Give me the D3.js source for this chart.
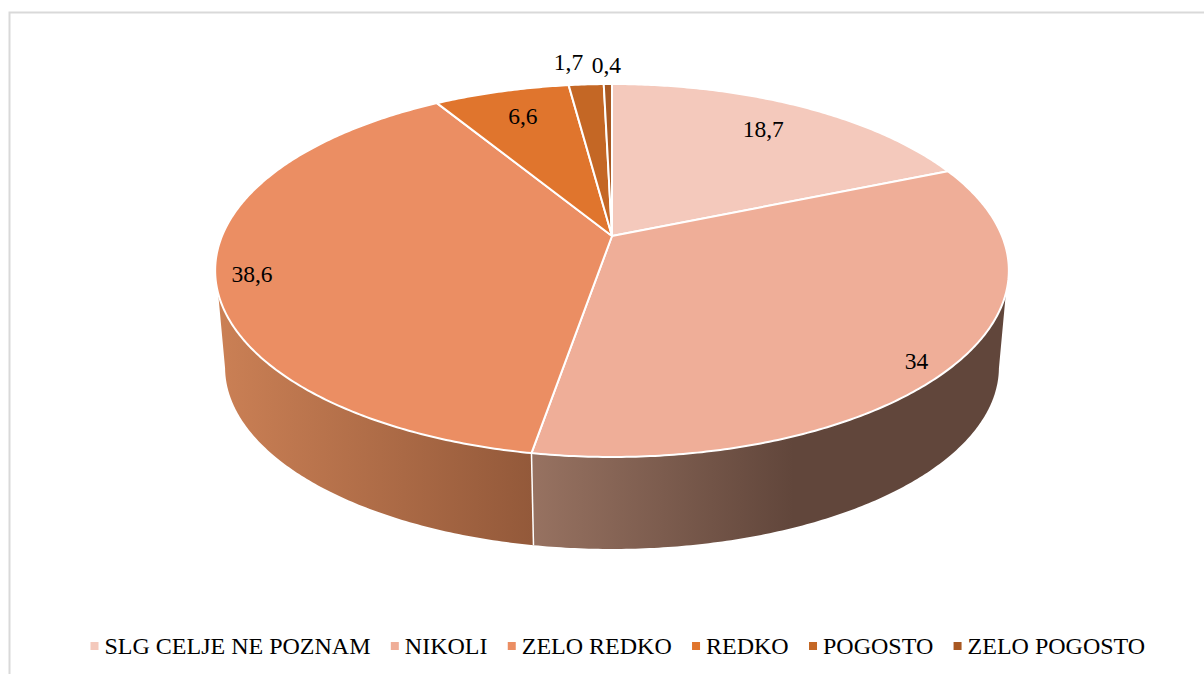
<!DOCTYPE html>
<html>
<head>
<meta charset="utf-8">
<script src="https://cdn.jsdelivr.net/npm/d3@7"></script>
<style>
  html, body { margin: 0; padding: 0; background: #fff; }
  svg { display: block; }
  text { font-family: "Liberation Serif", serif; fill: #000; }
</style>
</head>
<body>
<svg id="chart" width="1204" height="674"></svg>
<script>
const categories = ["SLG CELJE NE POZNAM", "NIKOLI", "ZELO REDKO", "REDKO", "POGOSTO", "ZELO POGOSTO"];
const values = [18.7, 34, 38.6, 6.6, 1.7, 0.4];
const valueLabels = ["18,7", "34", "38,6", "6,6", "1,7", "0,4"];
const colors = ["#F4C9BC", "#EFAE98", "#EB8E63", "#E0752D", "#C46725", "#A85822"];

// label placement: radius fraction plus a small nudge, like the hand moved labels
const labelRadius = [0.79, 0.9, 0.91, 0.8, 1.172, 1.144];
const labelNudgeX = [-1, -2, 0, 2, -14, -1];
const labelNudgeY = [0, 13, 7, 0, 0, 0];

const svg = d3.select("#chart");
const width = +svg.attr("width");
const height = +svg.attr("height");

// chart frame, runs off the right and bottom of the picture
svg.append("rect")
  .attr("x", 9.5)
  .attr("y", 12.5)
  .attr("width", width)
  .attr("height", height)
  .attr("fill", "#fff")
  .attr("stroke", "#d9d9d9")
  .attr("stroke-width", 2);

// perspective disc: k is the foreshortening, a and b the radii before it
const hub = { x: 612, y: 236 };
const a = 390;
const b = 180.1;
const k = 0.185;

// lower rim of the wall is the same disc, a bit smaller and lower down
const lowerScale = 0.975;
const lowerHubY = 333.5;

function project(angle, r = 1, scale = 1, hubY = hub.y) {
  const u = r * Math.sin(angle);
  const v = r * Math.cos(angle);
  const d = 1 + k * v;
  return [hub.x + scale * a * u / d, hubY - scale * b * v / d];
}

function arcAngles(start, end) {
  const n = Math.max(2, Math.ceil(Math.abs(end - start) / 0.01));
  return d3.range(n + 1).map(i => start + (end - start) * i / n);
}

const line = d3.line();

const arcs = d3.pie().sort(null).startAngle(0).endAngle(2 * Math.PI)(values);

const defs = svg.append("defs");

function addGradient(id, x1, x2, stops) {
  const g = defs.append("linearGradient")
    .attr("id", id)
    .attr("gradientUnits", "userSpaceOnUse")
    .attr("x1", x1).attr("x2", x2)
    .attr("y1", 0).attr("y2", 0);
  stops.forEach(s => g.append("stop").attr("offset", s[0]).attr("stop-color", s[1]));
}

addGradient("wallRight", 533, 1006, [[0, "#977261"], [0.55, "#61463B"], [1, "#61463B"]]);
addGradient("wallLeft", 217, 533, [[0, "#CB8055"], [1, "#93593A"]]);

// where the wall stops being visible on each side
const rightEdgeTop = 107.5 * Math.PI / 180;
const rightEdgeLow = 101 * Math.PI / 180;
const leftEdgeTop = 252.5 * Math.PI / 180;
const leftEdgeLow = 259 * Math.PI / 180;
const seam = arcs[1].endAngle;

function wallPath(topStart, topEnd, lowStart, lowEnd) {
  const top = arcAngles(topStart, topEnd).map(t => project(t));
  const low = arcAngles(lowEnd, lowStart).map(t => project(t, 1, lowerScale, lowerHubY));
  return line(top.concat(low)) + "Z";
}

svg.append("path")
  .attr("d", wallPath(rightEdgeTop, seam, rightEdgeLow, seam))
  .attr("fill", "url(#wallRight)");

svg.append("path")
  .attr("d", wallPath(seam, leftEdgeTop, seam, leftEdgeLow))
  .attr("fill", "url(#wallLeft)");

svg.append("path")
  .attr("d", line([project(seam), project(seam, 1, lowerScale, lowerHubY)]))
  .attr("fill", "none")
  .attr("stroke", "#fff")
  .attr("stroke-width", 1.5);

// top face
svg.append("g").selectAll("path")
  .data(arcs)
  .enter()
  .append("path")
  .attr("d", d => {
    const rim = arcAngles(d.startAngle, d.endAngle).map(t => project(t));
    return line([[hub.x, hub.y]].concat(rim)) + "Z";
  })
  .attr("fill", (d, i) => colors[i])
  .attr("stroke", "#fff")
  .attr("stroke-width", 2)
  .attr("stroke-linejoin", "round");

// value labels
svg.append("g").selectAll("text")
  .data(arcs)
  .enter()
  .append("text")
  .attr("x", (d, i) => project((d.startAngle + d.endAngle) / 2, labelRadius[i])[0] + labelNudgeX[i])
  .attr("y", (d, i) => project((d.startAngle + d.endAngle) / 2, labelRadius[i])[1] + labelNudgeY[i] + 7)
  .attr("text-anchor", "middle")
  .attr("font-size", "23.5px")
  .text((d, i) => valueLabels[i]);

// legend, flowed left to right from the measured text widths
const legendY = 646;
const legend = svg.append("g");
let legendX = 90.5;
categories.forEach((name, i) => {
  legend.append("rect")
    .attr("x", legendX)
    .attr("y", legendY - 4)
    .attr("width", 8)
    .attr("height", 8)
    .attr("fill", colors[i]);
  const label = legend.append("text")
    .attr("x", legendX + 14)
    .attr("y", legendY + 8)
    .attr("font-size", "24px")
    .text(name);
  legendX += 14 + label.node().getComputedTextLength() + 20.3;
});
</script>
</body>
</html>
